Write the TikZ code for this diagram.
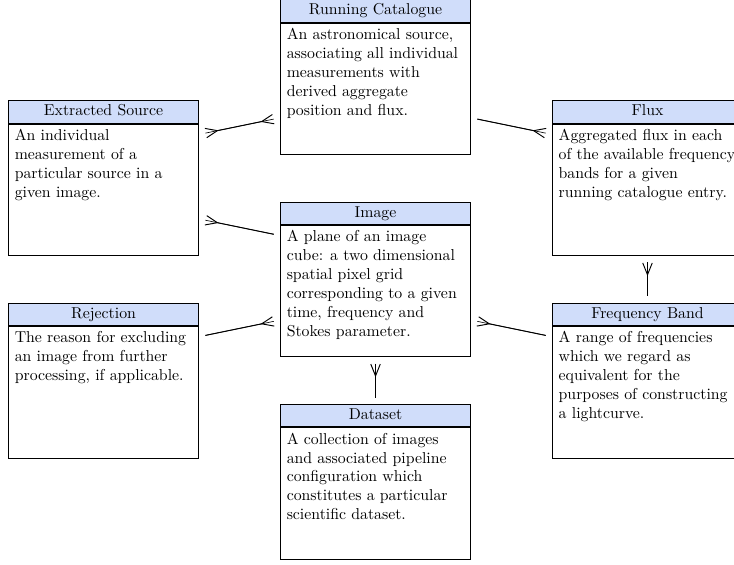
\documentclass[tikz,border=0pt]{standalone}
\usetikzlibrary{positioning,arrows.meta}
\definecolor{headblue}{RGB}{208,221,250}
\tikzset{%
entity/.style={on grid,draw,fill=headblue,text width=3.95cm,inner xsep=4pt,align=center,inner ysep=2.5pt,text height=7pt,text depth=2.2pt,semithick},
descr/.style={draw,fill=white,text width=3.95cm,inner xsep=4pt,align=flush left,text height=7pt,text depth=69.5pt,semithick},
crow/.tip={Straight Barb[reversed,length=7.5pt,width=6pt]},
link/.style={semithick,shorten <=4pt,shorten >=4pt,preaction={draw,-,shorten <=4pt,shorten >=4pt}}
}
\begin{document}
\begin{tikzpicture}[node distance=2.25cm and 6.05cm]

    \useasboundingbox (-237.7pt,-222.6pt) rectangle (226.9pt,135pt);

    \node[entity] (image) {Image};
    \node[descr] (image-d) [below=0pt of image] {A plane of an image cube: a two dimensional spatial pixel grid corresponding to a given time, frequency and Stokes parameter.};

    \node[entity] (runcat) [above=4.5cm of image] {Running Catalogue};
    \node[descr] (runcat-d) [below=0pt of runcat] {An astronomical source, associating all individual measurements with derived aggregate position and flux.};

    \node[entity] (extract) [above left=of image] {Extracted Source};
    \node[descr] (extract-d) [below=0pt of extract] {An individual measurement of a particular source in a given image.};

    \node[entity] (flux) [above right=of image] {Flux};
    \node[descr] (flux-d) [below=0pt of flux] {Aggregated flux in each of the available frequency bands for a given\\ running catalogue entry.};

    \node[entity] (reject) [below left=of image] {Rejection};
    \node[descr] (reject-d) [below=0pt of reject] {The reason for excluding an image from further processing, if applicable.};

    \node[entity] (fband) [below right=of image] {Frequency Band};
    \node[descr] (fband-d) [below=0pt of fband] {A range of frequencies which we regard as equivalent for the purposes of constructing a lightcurve.};

    \node[entity] (dataset) [below=4.5cm of image] {Dataset};
    \node[descr] (dataset-d) [below=0pt of dataset] {A collection of images and associated pipeline configuration which constitutes a particular scientific dataset.};

    % relations, crow's foot on the "many" side
    \draw[link,crow-crow] ([yshift=-21.5pt]extract.north east) -- ([yshift=-75pt]runcat.north west);
    \draw[link,crow-] ([yshift=-75pt]extract.north east) -- ([yshift=-21.5pt]image.north west);
    \draw[link,-crow] ([yshift=-21.5pt]reject.north east) -- ([yshift=-75pt]image.north west);
    \draw[link,-crow] ([yshift=-75pt]runcat.north east) -- ([yshift=-21.5pt]flux.north west);
    \draw[link,crow-] ([yshift=-75pt]image.north east) -- ([yshift=-21.5pt]fband.north west);
    \draw[link,crow-] (flux-d.south) -- (fband.north);
    \draw[link,crow-] (image-d.south) -- (dataset.north);

\end{tikzpicture}
\end{document}
